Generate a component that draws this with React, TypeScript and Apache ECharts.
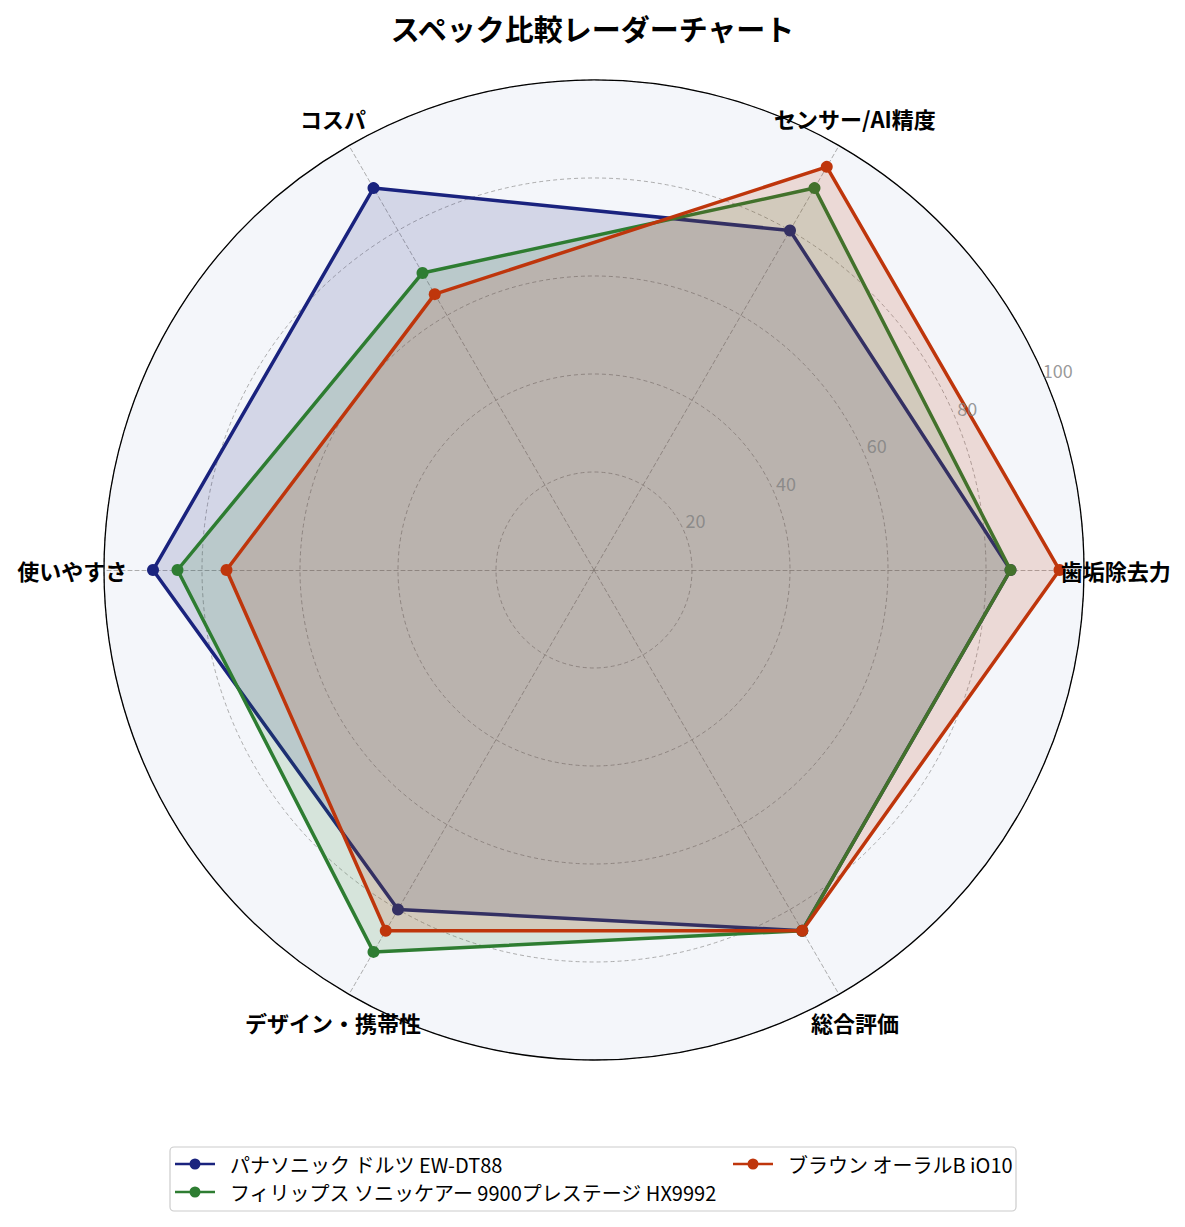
import React, { useEffect, useRef } from 'react';
import * as echarts from 'echarts';

const indicators = ['歯垢除去力', 'センサー/AI精度', 'コスパ', '使いやすさ', 'デザイン・携帯性', '総合評価'];
const seriesNames = [
    'パナソニック ドルツ EW-DT88',
    'フィリップス ソニッケアー 9900プレステージ HX9992',
    'ブラウン オーラルB iO10'
];
const panasonic = [85, 80, 90, 90, 80, 85];
const philips = [85, 90, 70, 85, 90, 85];
const braun = [95, 95, 65, 75, 85, 85];
const colors = ['#1a237e', '#2e7d32', '#bf360c'];
const radialTicks = [20, 40, 60, 80, 100];

const FONT = '"Noto Sans CJK JP", "Noto Sans", sans-serif';
const CX = 594;
const CY = 570;
const R = 490;
const NAME_R = 106.5;
const legendIcon =
    'path://M0,4.8 L40,4.8 L40,7.2 L0,7.2 Z M14.5,6 A5.5,5.5 0 1,1 25.5,6 A5.5,5.5 0 1,1 14.5,6 Z';

const App: React.FC = () => {
    const chartRef = useRef<HTMLDivElement>(null);

    useEffect(() => {
        if (!chartRef.current) return;
        const chart = echarts.init(chartRef.current, null, { renderer: 'svg' });

        const values = [panasonic, philips, braun];
        const legendText = {
            fontSize: 20,
            color: '#000',
            fontFamily: FONT,
            padding: [0, 0, 0, 10]
        };

        const option: echarts.EChartsOption = {
            animation: false,
            backgroundColor: '#ffffff',
            textStyle: { fontFamily: FONT },
            title: {
                text: 'スペック比較レーダーチャート',
                left: 'center',
                top: 8,
                textStyle: { fontSize: 29, fontWeight: 'bold', color: '#000', fontFamily: FONT }
            },
            radar: {
                center: [CX, CY],
                radius: R,
                startAngle: 0,
                shape: 'circle',
                splitNumber: 5,
                indicator: indicators.map((name) => ({ name, max: 100, min: 0 })),
                axisName: { show: false },
                axisLine: { lineStyle: { color: '#999', type: [4, 3], width: 0.8 } },
                splitLine: { lineStyle: { color: '#999', type: [4, 3], width: 0.8 } },
                splitArea: { show: true, areaStyle: { color: ['#f4f6fa'] } }
            },
            polar: { center: [CX, CY], radius: R },
            angleAxis: {
                type: 'value',
                min: 0,
                max: 360,
                startAngle: 0,
                clockwise: false,
                z: 10,
                axisLine: { show: true, lineStyle: { color: '#000', width: 1.3 } },
                axisTick: { show: false },
                axisLabel: { show: false },
                splitLine: { show: false }
            },
            radiusAxis: {
                type: 'value',
                min: 0,
                max: 100,
                axisLine: { show: false },
                axisTick: { show: false },
                axisLabel: { show: false },
                splitLine: { show: false }
            },
            legend: [
                {
                    data: seriesNames.slice(0, 2),
                    orient: 'vertical',
                    left: 175,
                    top: 1154,
                    padding: 0,
                    itemWidth: 40,
                    itemHeight: 12,
                    itemGap: 8,
                    icon: legendIcon,
                    textStyle: legendText
                },
                {
                    data: seriesNames.slice(2),
                    orient: 'vertical',
                    left: 733,
                    top: 1154,
                    padding: 0,
                    itemWidth: 40,
                    itemHeight: 12,
                    icon: legendIcon,
                    textStyle: legendText
                }
            ],
            graphic: [
                {
                    type: 'rect',
                    shape: { x: 170, y: 1147, width: 846, height: 64, r: 4 },
                    style: { fill: 'none', stroke: '#cccccc', lineWidth: 1.2 },
                    z: -1
                }
            ],
            series: [
                ...values.map((vals, i) => ({
                    type: 'radar' as const,
                    name: seriesNames[i],
                    symbol: 'circle',
                    symbolSize: 12,
                    z: 2 + i,
                    itemStyle: { color: colors[i] },
                    lineStyle: { color: colors[i], width: 3.5 },
                    areaStyle: { color: colors[i], opacity: 0.15 },
                    data: [{ name: seriesNames[i], value: vals }]
                })),
                {
                    type: 'scatter' as const,
                    name: 'axis-names',
                    coordinateSystem: 'polar',
                    symbolSize: 4,
                    clip: false,
                    z: 20,
                    itemStyle: { color: 'rgba(0,0,0,0)' },
                    label: {
                        show: true,
                        position: 'inside',
                        formatter: (p: any) => indicators[p.dataIndex],
                        color: '#000000',
                        opacity: 1,
                        textBorderWidth: 0,
                        textBorderColor: 'transparent',
                        fontSize: 22,
                        fontWeight: 'bold',
                        fontFamily: FONT
                    },
                    data: indicators.map((_, i) => [NAME_R, (i * 360) / indicators.length])
                },
                {
                    type: 'scatter' as const,
                    name: 'radial-ticks',
                    coordinateSystem: 'polar',
                    symbolSize: 4,
                    clip: false,
                    z: 20,
                    itemStyle: { color: 'rgba(0,0,0,0)' },
                    label: {
                        show: true,
                        position: [13, -10],
                        align: 'center',
                        verticalAlign: 'middle',
                        formatter: (p: any) => String(radialTicks[p.dataIndex]),
                        color: '#808080',
                        fontSize: 18,
                        fontFamily: FONT
                    },
                    data: radialTicks.map((t) => [t, 22.5])
                }
            ]
        };

        chart.setOption(option);
        return () => {
            chart.dispose();
        };
    }, []);

    return <div ref={chartRef} style={{ width: '1185px', height: '1227px', margin: '-8px' }} />;
};

export default App;
